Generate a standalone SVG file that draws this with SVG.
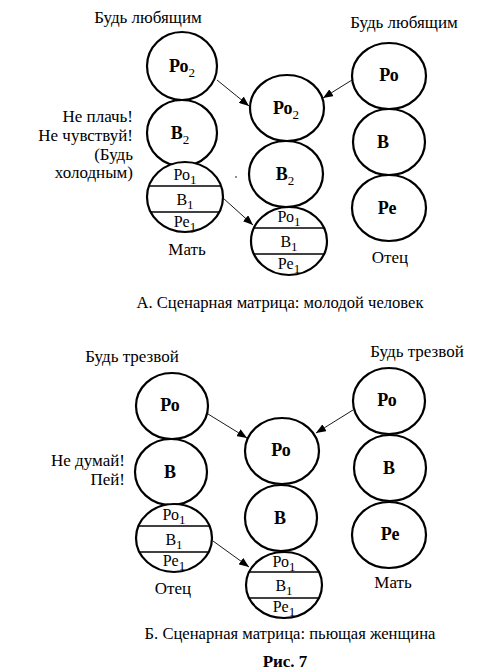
<svg xmlns="http://www.w3.org/2000/svg" width="485" height="672" viewBox="0 0 485 672" font-family="'Liberation Serif', 'Times New Roman', 'DejaVu Serif', serif">
<style>
text{font-family:'Liberation Serif','Times New Roman','DejaVu Serif',serif;fill:#000}
.t{font-size:17px}
.cap{font-size:16.6px;text-anchor:middle}
.c{text-anchor:middle}
.r{text-anchor:end}
.L{font-size:18px;font-weight:bold;text-anchor:middle}
.s{font-size:16px;text-anchor:middle}
.sub{font-size:13px}
ellipse{fill:#fff;stroke:#000;stroke-width:2.2}
.div{stroke:#000;stroke-width:1.5}
.con{stroke:#000;stroke-width:0.9;fill:none}
</style>
<defs>
<marker id="ah" viewBox="0 0 10 8" refX="10" refY="4" markerWidth="10" markerHeight="8" markerUnits="userSpaceOnUse" orient="auto">
<path d="M0,0 L10,4 L0,8 z" fill="#000"/>
</marker>
<clipPath id="cA"><ellipse cx="185" cy="197" rx="38" ry="35"/></clipPath>
<clipPath id="cB"><ellipse cx="289" cy="241" rx="38" ry="34"/></clipPath>
<clipPath id="cC"><ellipse cx="174" cy="538" rx="38" ry="34"/></clipPath>
<clipPath id="cD"><ellipse cx="284" cy="585" rx="38" ry="33"/></clipPath>
</defs>

<text class="t c" x="148" y="23">Будь любящим</text>
<text class="t c" x="404" y="28">Будь любящим</text>
<g id="inj-top">
<text class="t r" x="133" y="122">Не плачь!</text>
<text class="t r" x="133" y="141">Не чувствуй!</text>
<text class="t r" x="133" y="160">(Будь</text>
<text class="t r" x="133" y="178">холодным)</text>
</g>

<g id="mother-top">
<ellipse cx="182" cy="66" rx="35" ry="34"/>
<text class="L" x="182" y="72">Ро<tspan class="sub" dy="5" font-weight="normal">2</tspan></text>
<ellipse cx="182" cy="133" rx="35" ry="33"/>
<text class="L" x="180" y="139">В<tspan class="sub" dy="5" font-weight="normal">2</tspan></text>
<ellipse cx="185" cy="197" rx="38" ry="35"/>
<g clip-path="url(#cA)"><line class="div" x1="140" y1="186" x2="230" y2="186"/><line class="div" x1="140" y1="212" x2="230" y2="212"/></g>
<text class="s" x="185" y="180">Ро<tspan class="sub" dy="4">1</tspan></text>
<text class="s" x="185" y="205">В<tspan class="sub" dy="4">1</tspan></text>
<text class="s" x="185" y="227">Ре<tspan class="sub" dy="4">1</tspan></text>
<text class="t c" x="187" y="255">Мать</text>
</g>

<g id="child-top">
<ellipse cx="287" cy="108" rx="37" ry="33"/>
<text class="L" x="286" y="114">Ро<tspan class="sub" dy="5" font-weight="normal">2</tspan></text>
<ellipse cx="286" cy="174" rx="37" ry="33"/>
<text class="L" x="285" y="180">В<tspan class="sub" dy="5" font-weight="normal">2</tspan></text>
<ellipse cx="289" cy="241" rx="38" ry="34"/>
<g clip-path="url(#cB)"><line class="div" x1="245" y1="228" x2="335" y2="228"/><line class="div" x1="245" y1="254" x2="335" y2="254"/></g>
<text class="s" x="289" y="222">Ро<tspan class="sub" dy="4">1</tspan></text>
<text class="s" x="289" y="247">В<tspan class="sub" dy="4">1</tspan></text>
<text class="s" x="289" y="269">Ре<tspan class="sub" dy="4">1</tspan></text>
</g>

<g id="father-top">
<ellipse cx="389" cy="76" rx="37" ry="33"/>
<text class="L" x="389" y="81">Ро</text>
<ellipse cx="389" cy="142" rx="36" ry="33"/>
<text class="L" x="383" y="148">В</text>
<ellipse cx="389" cy="208" rx="37" ry="33"/>
<text class="L" x="387" y="214">Ре</text>
<text class="t c" x="390" y="263">Отец</text>
</g>

<circle cx="236" cy="177" r="0.8" fill="#000"/>

<text class="cap" x="280" y="308">А. Сценарная матрица: молодой человек</text>

<text class="t c" x="132" y="362">Будь трезвой</text>
<text class="t c" x="417" y="357">Будь трезвой</text>
<g id="inj-bottom">
<text class="t r" x="125" y="466">Не думай!</text>
<text class="t r" x="125" y="485">Пей!</text>
</g>

<g id="father-bottom">
<ellipse cx="172" cy="406" rx="36" ry="33"/>
<text class="L" x="170" y="411">Ро</text>
<ellipse cx="171" cy="472" rx="36" ry="33"/>
<text class="L" x="170" y="478">В</text>
<ellipse cx="174" cy="538" rx="38" ry="34"/>
<g clip-path="url(#cC)"><line class="div" x1="130" y1="526" x2="220" y2="526"/><line class="div" x1="130" y1="552" x2="220" y2="552"/></g>
<text class="s" x="174" y="520">Ро<tspan class="sub" dy="4">1</tspan></text>
<text class="s" x="174" y="545">В<tspan class="sub" dy="4">1</tspan></text>
<text class="s" x="174" y="566">Ре<tspan class="sub" dy="4">1</tspan></text>
<text class="t c" x="173" y="594">Отец</text>
</g>

<g id="child-bottom">
<ellipse cx="282" cy="451" rx="37" ry="33"/>
<text class="L" x="281" y="456">Ро</text>
<ellipse cx="281" cy="518" rx="36" ry="33"/>
<text class="L" x="280" y="524">В</text>
<ellipse cx="284" cy="585" rx="38" ry="33"/>
<g clip-path="url(#cD)"><line class="div" x1="240" y1="572" x2="330" y2="572"/><line class="div" x1="240" y1="598" x2="330" y2="598"/></g>
<text class="s" x="284" y="567">Ро<tspan class="sub" dy="4">1</tspan></text>
<text class="s" x="284" y="591">В<tspan class="sub" dy="4">1</tspan></text>
<text class="s" x="284" y="612">Ре<tspan class="sub" dy="4">1</tspan></text>
</g>

<g id="mother-bottom">
<ellipse cx="389" cy="401" rx="36" ry="33"/>
<text class="L" x="387" y="406">Ро</text>
<ellipse cx="390" cy="468" rx="36" ry="33"/>
<text class="L" x="389" y="474">В</text>
<ellipse cx="389" cy="535" rx="37" ry="33"/>
<text class="L" x="390" y="540">Ре</text>
<text class="t c" x="393" y="588">Мать</text>
</g>

<text class="cap" x="290" y="639">Б. Сценарная матрица: пьющая женщина</text>
<text x="285" y="667" font-size="17" font-weight="bold" text-anchor="middle">Рис. 7</text>

<g id="connectors">
<line class="con" x1="217" y1="80" x2="249" y2="106" marker-end="url(#ah)"/>
<line class="con" x1="352" y1="80" x2="323" y2="98" marker-end="url(#ah)"/>
<line class="con" x1="223" y1="198" x2="253" y2="225" marker-end="url(#ah)"/>
<line class="con" x1="208" y1="414" x2="247" y2="438" marker-end="url(#ah)"/>
<line class="con" x1="353" y1="410" x2="316" y2="433" marker-end="url(#ah)"/>
<line class="con" x1="213" y1="541" x2="249" y2="567" marker-end="url(#ah)"/>
</g>
</svg>
